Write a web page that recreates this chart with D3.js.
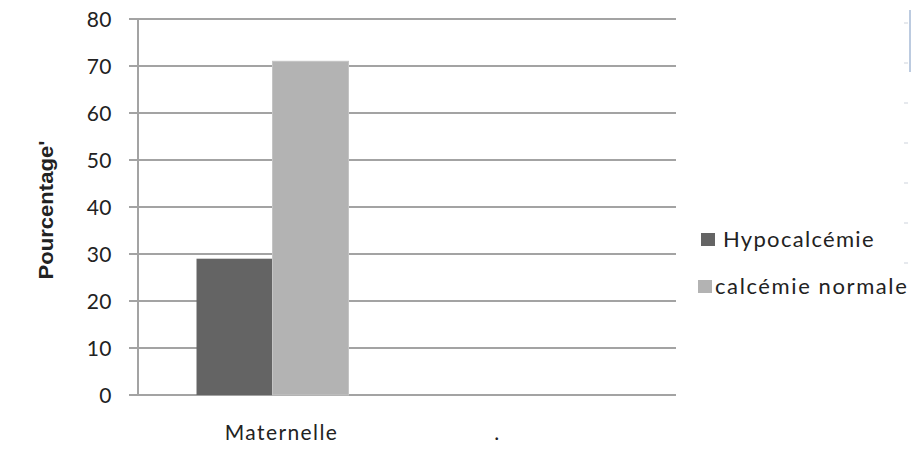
<!DOCTYPE html>
<html>
<head>
<meta charset="utf-8">
<script src="https://cdn.jsdelivr.net/npm/d3@7"></script>
<style>
  html, body { margin: 0; padding: 0; background: #fff; }
  svg text { font-family: Lato, "Open Sans", sans-serif; fill: #222; }
</style>
</head>
<body>
<svg id="chart" width="912" height="450"></svg>
<script>
// Calcémie par groupe (pourcentage)
const categories = ["Maternelle", "."];
const seriesNames = ["Hypocalcémie", "calcémie normale"];
const hypocalcemie = [29, null];
const calcemieNormale = [71, null];
const yTicks = [0, 10, 20, 30, 40, 50, 60, 70, 80];
const yTitle = "Pourcentage'";
const colors = ["#646464", "#b3b3b3"];

const svg = d3.select("#chart");
const plot = { left: 138, right: 676, top: 19, bottom: 395 };

const x = d3.scaleBand().domain(categories).range([plot.left, plot.right]).padding(0);
const xs = d3.scaleBand().domain(seriesNames).range([0, x.bandwidth()])
  .paddingInner(0).paddingOuter(0.77);
const y = d3.scaleLinear().domain([0, 80]).range([plot.bottom, plot.top]);

// horizontal gridlines
svg.append("g").selectAll("line").data(yTicks).join("line")
  .attr("x1", plot.left - 9).attr("x2", plot.right)
  .attr("y1", d => y(d)).attr("y2", d => y(d))
  .attr("stroke", "#a3a3a3").attr("stroke-width", 2);

// y axis labels
const yAxis = d3.axisLeft(y).tickValues(yTicks).tickSize(0).tickPadding(26);
const gy = svg.append("g").attr("transform", `translate(${plot.left},0)`).call(yAxis);
gy.select(".domain").remove();
gy.selectAll("text").style("font-size", "21px").style("font-family", "Lato, sans-serif")
  .style("letter-spacing", "0.5px")
  .attr("fill", "#222").attr("dy", "0.36em");

// bars
const rows = categories.map((c, i) => ({ cat: c, values: [hypocalcemie[i], calcemieNormale[i]] }));
const groups = svg.append("g").selectAll("g").data(rows).join("g")
  .attr("transform", d => `translate(${x(d.cat)},0)`);
groups.selectAll("rect")
  .data(d => d.values.map((v, j) => ({ name: seriesNames[j], v, j })).filter(e => e.v != null))
  .join("rect")
  .attr("x", d => xs(d.name))
  .attr("width", xs.bandwidth())
  .attr("y", d => y(d.v))
  .attr("height", d => y(0) - y(d.v))
  .attr("fill", d => colors[d.j])
  .attr("stroke", d => d.j === 1 ? "#c4c4c4" : "none")
  .attr("stroke-width", 1);

// vertical axis line
svg.append("line")
  .attr("x1", plot.left).attr("x2", plot.left)
  .attr("y1", plot.top).attr("y2", plot.bottom + 1)
  .attr("stroke", "#a3a3a3").attr("stroke-width", 2);

// category labels
const xAxis = d3.axisBottom(x).tickSize(0).tickPadding(30);
const gx = svg.append("g").attr("transform", `translate(0,${plot.bottom})`).call(xAxis);
gx.select(".domain").remove();
gx.selectAll("text").style("font-size", "21px").style("font-family", "Lato, sans-serif")
  .style("letter-spacing", "1.4px")
  .attr("fill", "#222")
  .attr("dx", (d, i) => i === 0 ? 9 : -44);

// y axis title
svg.append("text")
  .attr("transform", "translate(53,210) rotate(-90)")
  .attr("text-anchor", "middle")
  .attr("textLength", 139).attr("lengthAdjust", "spacingAndGlyphs")
  .style("font-family", "'Liberation Sans Narrow', 'Arial Narrow', sans-serif")
  .style("font-weight", "bold").style("font-size", "20px")
  .attr("fill", "#000")
  .text(yTitle);

// legend
const legend = svg.append("g").selectAll("g").data(seriesNames).join("g")
  .attr("transform", (d, i) => `translate(${i === 0 ? 701 : 698},${239 + i * 47})`);
legend.append("rect")
  .attr("x", 0).attr("y", -6).attr("width", 14).attr("height", 13)
  .attr("fill", (d, i) => colors[i]);
legend.append("text")
  .attr("x", (d, i) => i === 0 ? 22 : 17).attr("y", 0).attr("dy", "0.35em")
  .style("font-size", "22px").style("letter-spacing", (d, i) => i === 0 ? "1.3px" : "1.6px")
  .attr("fill", "#222")
  .text(d => d);

// right-hand edge frame remnants
const edge = svg.append("g");
edge.append("line").attr("x1", 910).attr("x2", 910).attr("y1", 10).attr("y2", 72)
  .attr("stroke", "#bccbe0").attr("stroke-width", 2);
edge.selectAll("line.dash").data(d3.range(7)).join("line").attr("class", "dash")
  .attr("x1", 904).attr("x2", 908)
  .attr("y1", d => 23 + d * 40).attr("y2", d => 23 + d * 40)
  .attr("stroke", "#cdd3dc").attr("stroke-width", 1);
</script>
</body>
</html>
